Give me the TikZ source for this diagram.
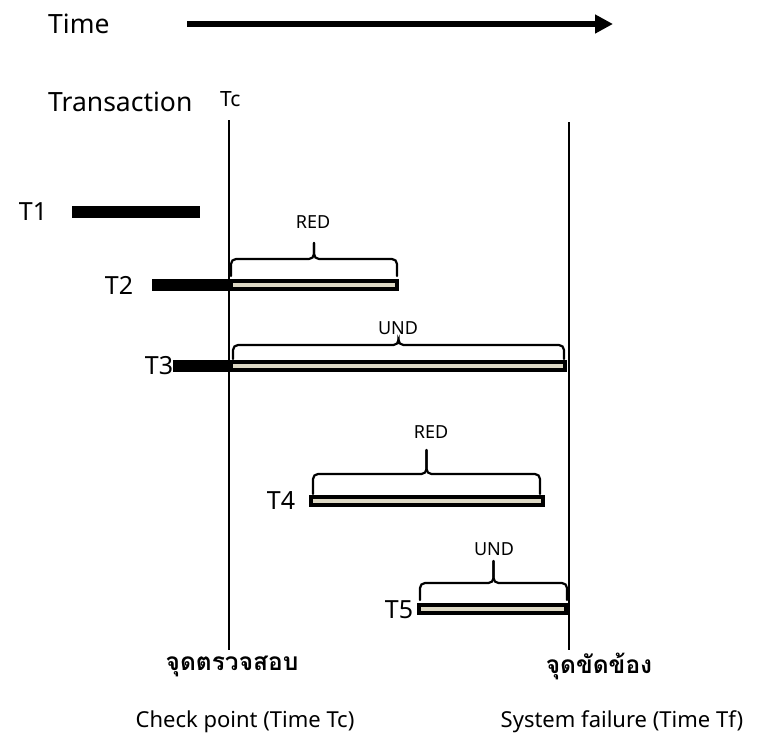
\documentclass[tikz,border=0pt]{standalone}
\usepackage{fontspec}
\setmainfont{Noto Sans}
\newfontfamily\thaifont[Script=Thai]{Loma}
\usetikzlibrary{arrows.meta}
\definecolor{barfill}{HTML}{DDD8C4}
\tikzset{
  lbl/.style={font=\fontsize{25}{30}\selectfont, inner sep=0pt},
  headlbl/.style={font=\fontsize{26.5}{31}\selectfont, inner sep=0pt},
  caption/.style={font=\fontsize{22}{26}\selectfont, inner sep=0pt},
  tclbl/.style={font=\fontsize{21}{25}\selectfont, inner sep=0pt},
  smalllbl/.style={font=\fontsize{18}{22}\selectfont, inner sep=0pt},
  thailbl/.style={font=\thaifont\bfseries\fontsize{24.5}{29}\selectfont, inner sep=0pt},
  timeline/.style={line width=1.6pt},
  solidbar/.style={fill=black, draw=none},
  redobar/.style={fill=barfill, draw=black, line width=4pt},
  bracepath/.style={line width=2.2pt, rounded corners=5pt, line cap=round},
}
% curly brace: left x, right x, bottom y, horizontal y, tip y
\newcommand\spanbrace[5]{%
  \pgfmathsetmacro\bmid{(#1+#2)/2}
  \draw[bracepath] (#1,#3) -- (#1,#4) -- (\bmid,#4) -- (\bmid,#5);
  \draw[bracepath] (#2,#3) -- (#2,#4) -- (\bmid,#4) -- (\bmid,#5);
}
\begin{document}
\begin{tikzpicture}[x=1pt,y=-1pt]
\useasboundingbox (0,0) rectangle (769,737);

% header
\node[headlbl, anchor=west] (time) at (48,24) {Time};
\coordinate (arrS) at (187,24);
\coordinate (arrE) at (613,24);
\draw[line width=6pt, -{Triangle[length=18pt,width=18pt]}] (arrS) -- (arrE);
\node[headlbl, anchor=west] (trans) at (48,102) {Transaction};
\node[tclbl, anchor=west] (tc) at (220,99) {Tc};

% checkpoint and failure lines
\coordinate (tcTop) at (229,120);
\coordinate (tcBot) at (229,650);
\coordinate (tfTop) at (569,122);
\coordinate (tfBot) at (569,650);
\draw[timeline] (tcTop) -- (tcBot);
\draw[timeline] (tfTop) -- (tfBot);

% T1
\node[lbl] (t1) at (33,212) {T1};
\fill[solidbar] (72,206) rectangle (200,218);

% T2
\node[lbl] (t2) at (119,285) {T2};
\fill[solidbar] (152,279) rectangle (229,291);
\draw[redobar] (231,281) rectangle (397,289);
\spanbrace{231}{397}{276}{259}{243}
\node[smalllbl] (red1) at (313,222) {RED};

% T3
\node[lbl] (t3) at (159,366) {T3};
\fill[solidbar] (173,360) rectangle (229,372);
\draw[redobar] (231,362) rectangle (565,370);
\spanbrace{233}{564}{359}{345}{343}
\node[smalllbl] (und1) at (398,328) {UND};

% T4
\node[lbl] (t4) at (281,501) {T4};
\draw[redobar] (311,497) rectangle (543,505);
\spanbrace{313}{540}{494}{474}{450}
\node[smalllbl] (red2) at (431,432) {RED};

% T5
\node[lbl] (t5) at (399,610) {T5};
\draw[redobar] (419,605) rectangle (566,613);
\spanbrace{420}{567}{600}{583}{561}
\node[smalllbl] (und2) at (494,549) {UND};

% captions
\node[thailbl] (cpTh) at (232,666) {จุดตรวจสอบ};
\node[thailbl] (sfTh) at (599,666) {จุดขัดข้อง};
\node[caption] (cpEn) at (245,722) {Check point (Time Tc)};
\node[caption] (sfEn) at (622,722) {System failure (Time Tf)};
\end{tikzpicture}
\end{document}
